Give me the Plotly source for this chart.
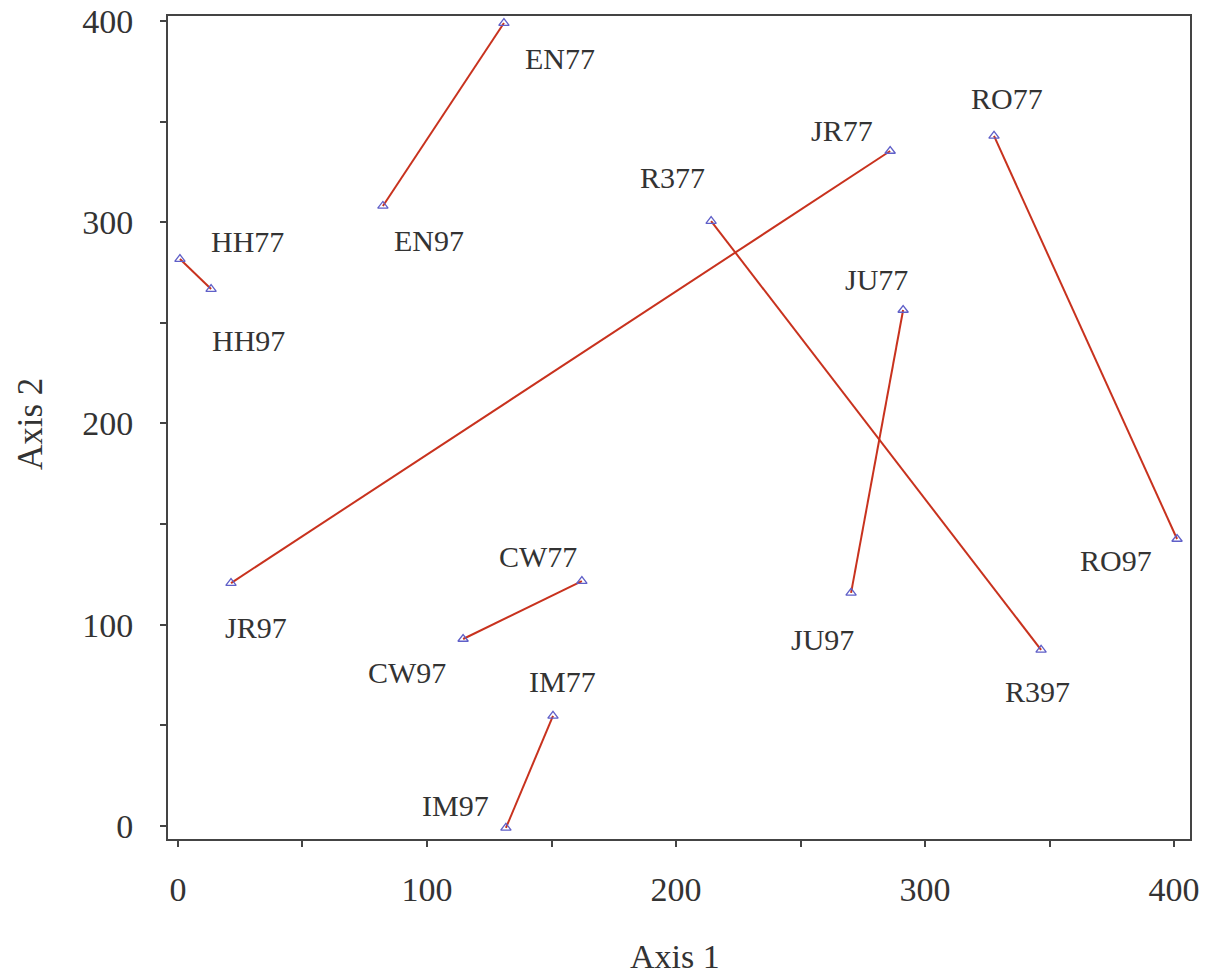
import plotly.graph_objects as go

# ---- data ----
sites = ["EN", "HH", "JR", "R3", "RO", "JU", "CW", "IM"]
x77 = [130.9, 0.8, 286.0, 214.1, 327.7, 291.2, 162.2, 150.6]
y77 = [399.0, 281.7, 335.4, 300.6, 342.9, 256.4, 121.7, 54.7]
x97 = [82.3, 13.3, 21.3, 346.6, 401.2, 270.3, 114.5, 131.7]
y97 = [308.1, 266.8, 120.7, 87.5, 142.6, 115.8, 92.9, -1.0]
tick_vals = [0, 50, 100, 150, 200, 250, 300, 350, 400]
tick_text = ["0", "", "100", "", "200", "", "300", "", "400"]

# label pixel offsets (styling)
off77 = {"EN": (56, -35), "HH": (68, 18), "JR": (-48, 21), "R3": (-39, 44),
         "RO": (13, 37), "JU": (-27, 30), "CW": (-44, 25), "IM": (10, 34)}
off97 = {"EN": (46, -35), "HH": (37, -51), "JR": (25, -44), "R3": (-4, -42),
         "RO": (-61, -22), "JU": (-29, -47), "CW": (-56, -34), "IM": (-50, 22)}

LINE = "#c8321e"
MARK = "#5f5fc8"
TXT = "#333333"
FONT = "Liberation Serif"

fig = go.Figure()
for i, s in enumerate(sites):
    fig.add_trace(go.Scatter(
        x=[x77[i], x97[i]], y=[y77[i], y97[i]], mode="lines+markers",
        line=dict(color=LINE, width=2),
        marker=dict(symbol="triangle-up-open", size=9, color=MARK, line=dict(width=1.3)),
        showlegend=False, hoverinfo="skip"))
    for yr, xx, yy, off in (("77", x77[i], y77[i], off77[s]), ("97", x97[i], y97[i], off97[s])):
        fig.add_annotation(x=xx, y=yy, text=s + yr, showarrow=False,
                           xshift=off[0], yshift=off[1],
                           font=dict(family=FONT, size=30, color=TXT))

axis_common = dict(
    showline=True, linecolor="#444444", linewidth=2, mirror=True,
    showgrid=False, zeroline=False, ticks="outside", ticklen=6, tickwidth=2,
    tickcolor="#444444", tickvals=tick_vals, ticktext=tick_text,
    tickfont=dict(family=FONT, size=34, color=TXT), automargin=False,
)
fig.update_xaxes(range=[-4, 406.4], ticklabelstandoff=13, **axis_common)
fig.update_yaxes(range=[-6.5, 402.5], ticklabelstandoff=20, **axis_common)

fig.add_annotation(xref="paper", yref="paper", x=(675 - 168) / 1022, y=(839 - 956) / 823,
                   text="Axis 1", showarrow=False, xanchor="center", yanchor="middle",
                   font=dict(family=FONT, size=34, color=TXT))
fig.add_annotation(xref="paper", yref="paper", x=(30 - 168) / 1022, y=(839 - 424) / 823,
                   text="Axis 2", showarrow=False, xanchor="center", yanchor="middle",
                   textangle=-90, font=dict(family=FONT, size=35, color=TXT))

fig.update_layout(
    width=1207, height=979,
    margin=dict(l=168, r=17, t=16, b=140),
    paper_bgcolor="white", plot_bgcolor="white",
)
fig.write_html("out.html")
